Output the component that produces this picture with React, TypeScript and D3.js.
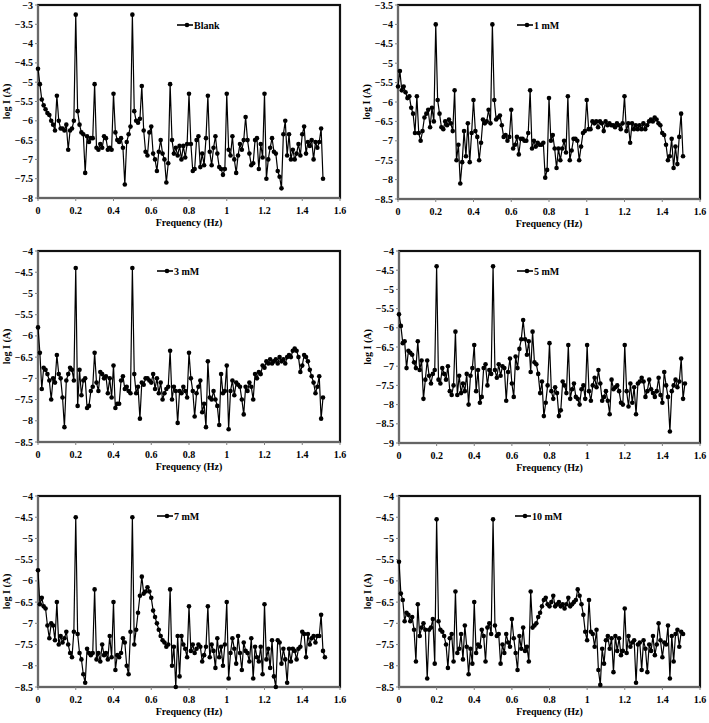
import * as d3 from "d3";

// log I (A) at 0.01 Hz steps
const blank = [
  -4.65, -5.05, -5.45, -5.6, -5.7, -5.8, -5.85, -6.0, -6.1, -6.25,
  -5.35, -6.0, -6.2, -6.2, -6.25, -6.1, -6.75, -6.25, -6.2, -6.0,
  -3.25, -5.75, -6.1, -6.3, -6.35, -7.35, -6.4, -6.55, -6.45, -6.45,
  -5.05, -6.7, -6.75, -6.6, -6.7, -6.4, -6.45, -6.75, -6.7, -6.75,
  -5.3, -6.3, -6.5, -6.55, -6.45, -6.7, -7.65, -6.55, -6.35, -6.15,
  -3.25, -5.75, -6.0, -6.05, -5.95, -5.1, -6.25, -6.8, -6.9, -6.3,
  -6.15, -6.85, -7.0, -7.3, -6.8, -6.5, -6.85, -7.0, -7.6, -7.1,
  -5.05, -6.5, -6.85, -6.7, -6.9, -6.65, -7.0, -6.65, -6.95, -6.6,
  -5.3, -6.6, -7.3, -7.25, -6.5, -6.4, -7.2, -6.85, -7.15, -6.45,
  -5.35, -6.8, -7.15, -6.7, -6.4, -6.85, -7.2, -7.25, -7.4, -7.25,
  -5.3, -6.75, -6.9, -6.4, -7.0, -7.35, -6.9, -6.6, -6.75, -6.5,
  -5.9, -6.5, -6.85, -7.15, -7.1, -6.5, -6.45, -7.25, -6.6, -6.95,
  -5.3, -7.5, -7.0, -6.7, -6.45, -6.8, -6.85, -7.3, -7.45, -7.75,
  -6.35, -6.0, -6.9, -6.35, -7.0, -6.75, -7.0, -6.85, -6.6, -6.9,
  -6.35, -6.15, -6.85, -6.55, -6.65, -6.5, -7.0, -6.55, -6.7, -6.55,
  -6.2, -7.5,
];

const mM1 = [
  -5.6, -5.2, -5.7, -5.6, -5.75, -5.9, -5.85, -6.15, -6.3, -6.8,
  -5.85, -6.8, -7.0, -6.75, -6.4, -6.3, -6.2, -6.65, -6.15, -6.5,
  -4.0, -5.95, -6.3, -6.65, -6.7, -6.5, -6.6, -6.45, -6.55, -6.75,
  -5.7, -7.5, -7.1, -8.1, -7.55, -6.75, -7.4, -6.55, -7.55, -6.8,
  -5.95, -6.75, -6.9, -7.5, -7.05, -6.45, -6.55, -6.5, -6.2, -6.55,
  -4.0, -5.95, -6.45, -6.4, -6.35, -6.6, -6.9, -6.85, -7.0, -6.9,
  -6.2, -7.2, -7.1, -6.9, -7.35, -6.95, -6.95, -7.0, -7.0, -6.8,
  -5.7, -7.2, -7.0, -7.15, -7.05, -7.1, -7.1, -7.05, -7.95, -7.75,
  -5.9, -7.0, -6.85, -7.2, -7.7, -7.2, -7.5, -7.2, -7.0, -7.3,
  -5.85, -7.5, -7.25, -6.95, -6.95, -7.0, -7.5, -7.15, -6.8, -6.75,
  -5.95, -6.7, -6.7, -6.5, -6.55, -6.5, -6.65, -6.5, -6.55, -6.75,
  -6.5, -6.6, -6.55, -6.6, -6.6, -6.65, -6.55, -6.6, -6.7, -6.55,
  -5.85, -6.75, -6.55, -7.05, -6.55, -6.7, -6.6, -6.7, -6.6, -6.7,
  -6.55, -6.7, -6.6, -6.5, -6.45, -6.5, -6.4, -6.45, -6.55, -6.6,
  -6.8, -6.85, -7.1, -7.5, -7.4, -6.95, -7.7, -7.15, -7.6, -6.9,
  -6.3, -7.4,
];

const mM3 = [
  -5.8, -6.4, -7.25, -6.75, -6.8, -6.9, -7.05, -7.5, -7.0, -7.1,
  -6.45, -6.9, -7.0, -7.45, -8.15, -7.05, -6.9, -6.75, -6.8, -7.05,
  -4.4, -7.65, -6.8, -7.4, -7.05, -7.0, -7.7, -7.65, -7.3, -7.2,
  -6.4, -7.1, -7.3, -6.85, -6.9, -7.0, -6.95, -7.35, -7.0, -7.45,
  -6.7, -7.7, -7.6, -7.6, -7.05, -6.95, -7.25, -7.2, -7.3, -7.35,
  -4.4, -6.9, -7.35, -7.2, -7.95, -7.1, -7.15, -7.0, -7.0, -7.05,
  -7.1, -6.9, -7.25, -7.0, -7.35, -7.1, -7.5, -7.35, -7.25, -7.2,
  -6.35, -7.5, -7.2, -7.3, -8.05, -7.3, -7.35, -7.2, -7.3, -7.45,
  -6.4, -7.0, -7.3, -7.9, -7.35, -7.2, -7.05, -7.8, -7.6, -8.15,
  -6.6, -7.45, -7.5, -7.3, -7.5, -7.65, -8.1, -6.9, -7.35, -7.3,
  -6.7, -8.2, -7.3, -7.05, -7.4, -7.1, -7.15, -7.2, -7.5, -7.85,
  -7.2, -7.3, -7.1, -7.2, -7.5, -6.9, -7.0, -6.85, -6.9, -6.7,
  -6.75, -6.6, -6.65, -6.55, -6.65, -6.6, -6.55, -6.65, -6.5, -6.6,
  -6.55, -6.65, -6.5, -6.45, -6.5, -6.35, -6.3, -6.35, -6.5, -6.85,
  -6.7, -6.45, -6.5, -6.6, -6.8, -6.95, -7.1, -7.35, -7.2, -6.95,
  -7.95, -7.45,
];

const mM5 = [
  -5.65, -5.95, -6.4, -6.35, -7.05, -6.6, -6.65, -6.7, -6.9, -7.05,
  -6.35, -7.1, -6.85, -7.85, -7.35, -6.85, -7.25, -7.45, -7.2, -7.1,
  -4.4, -7.35, -7.45, -7.05, -7.2, -7.35, -7.0, -7.65, -7.75, -7.5,
  -6.1, -7.75, -7.25, -7.7, -7.45, -7.65, -7.2, -8.0, -7.25, -7.05,
  -6.45, -7.65, -7.1, -7.95, -7.8, -7.05, -6.95, -7.5, -7.1, -7.2,
  -4.4, -7.1, -7.3, -6.95, -7.25, -7.0, -7.05, -7.9, -7.15, -6.8,
  -7.45, -7.8, -6.75, -7.05, -6.55, -6.3, -5.8, -6.3, -6.7, -6.35,
  -7.15, -6.1, -6.9, -6.95, -7.2, -7.7, -7.4, -8.3, -7.95, -7.5,
  -6.4, -7.65, -7.85, -7.55, -7.7, -8.3, -8.15, -7.4, -7.5, -7.7,
  -6.45, -7.85, -7.6, -7.45, -7.8, -7.85, -8.0, -7.6, -7.5, -7.85,
  -6.45, -7.65, -7.9, -7.5, -7.3, -7.55, -7.1, -7.45, -7.9, -7.8,
  -7.65, -7.9, -8.25, -7.35, -7.6, -7.55, -7.5, -7.65, -7.95, -8.0,
  -6.45, -7.65, -8.05, -7.45, -7.95, -7.55, -8.25, -7.45, -7.4, -7.3,
  -7.4, -7.8, -7.65, -7.35, -7.6, -7.7, -7.8, -7.65, -7.3, -7.75,
  -7.95, -7.15, -7.5, -7.8, -8.7, -7.65, -7.5, -7.35, -7.55, -7.4,
  -6.8, -7.85, -7.45,
];

const mM7 = [
  -5.75, -6.55, -6.4, -6.6, -6.65, -7.05, -7.35, -7.0, -7.05, -7.4,
  -6.5, -7.5, -7.3, -7.45, -7.35, -7.2, -7.5, -7.7, -7.8, -7.2,
  -4.5, -7.25, -7.7, -7.85, -8.2, -8.4, -7.6, -7.7, -7.75, -7.7,
  -6.2, -7.85, -7.7, -7.9, -7.5, -7.75, -7.7, -7.85, -7.3, -7.8,
  -6.5, -8.1, -7.75, -7.8, -7.7, -7.35, -7.45, -8.0, -8.2, -7.2,
  -4.5, -7.5, -7.15, -6.75, -6.35, -5.9, -6.3, -6.25, -6.15, -6.25,
  -6.4, -6.7, -6.85, -7.0, -7.15, -7.3, -7.4, -7.45, -7.55, -7.5,
  -6.2, -8.0, -7.55, -8.5, -7.3, -8.25, -7.3, -7.5, -7.6, -7.8,
  -6.6, -7.65, -7.5, -7.7, -7.6, -7.5, -7.55, -7.9, -7.75, -7.55,
  -6.6, -7.8, -7.5, -7.65, -8.05, -7.35, -7.8, -7.55, -8.0, -7.5,
  -6.5, -8.3, -7.7, -7.35, -7.6, -7.95, -7.3, -7.7, -8.1, -7.45,
  -7.65, -7.7, -7.9, -7.35, -8.3, -7.55, -7.8, -7.9, -7.55, -8.2,
  -6.55, -7.85, -7.6, -8.05, -7.4, -8.25, -8.5, -7.4, -7.45, -7.95,
  -7.6, -7.85, -8.4, -7.6, -7.9, -7.6, -7.65, -7.85, -7.6, -7.55,
  -7.2, -7.25, -7.8, -7.25, -7.5, -7.35, -7.3, -7.45, -7.3, -7.3,
  -6.8, -7.65, -7.8,
];

const mM10 = [
  -5.55, -6.3, -6.45, -6.95, -6.75, -6.8, -6.95, -6.85, -7.15, -7.9,
  -6.55, -7.3, -7.1, -7.0, -7.15, -8.3, -7.15, -7.1, -6.9, -7.95,
  -4.55, -6.95, -7.15, -7.2, -7.3, -7.5, -8.05, -7.35, -7.25, -7.9,
  -6.25, -7.7, -7.6, -7.25, -7.85, -7.05, -7.55, -8.2, -7.6, -7.95,
  -6.5, -7.7, -7.5, -7.55, -7.15, -7.3, -7.9, -7.1, -7.0, -7.25,
  -4.55, -7.05, -7.3, -7.25, -7.95, -7.5, -7.7, -7.25, -7.45, -7.55,
  -6.9, -7.35, -7.7, -8.1, -7.3, -7.6, -7.1, -7.65, -7.55, -7.9,
  -6.25, -7.1, -7.05, -7.0, -6.85, -6.75, -6.6, -6.45, -6.4, -6.55,
  -6.6, -6.5, -6.35, -6.6, -6.55, -6.5, -6.6, -6.55, -6.65, -6.55,
  -6.4, -6.6, -6.55, -6.5, -6.45, -6.2, -6.35, -6.55, -6.8, -7.2,
  -7.4, -6.45, -7.2, -7.25, -7.55, -7.15, -8.1, -8.45, -7.6, -7.95,
  -7.4, -7.3, -7.6, -7.35, -8.15, -7.3, -7.65, -7.35, -7.75, -7.65,
  -6.65, -7.7, -7.3, -7.55, -7.45, -7.4, -8.4, -7.5, -7.45, -8.1,
  -7.4, -7.6, -8.15, -7.5, -7.65, -7.3, -7.75, -7.5, -7.0, -7.4,
  -7.8, -7.45, -7.5, -7.05, -8.3, -7.3, -7.9, -7.25, -7.15, -7.55,
  -7.2, -7.25,
];

const seriesNames = ["Blank", "1 mM", "3 mM", "5 mM", "7 mM", "10 mM"];
const seriesValues = [blank, mM1, mM3, mM5, mM7, mM10];
const yDomains: [number, number][] = [
  [-8, -3],
  [-8.5, -3.5],
  [-8.5, -4],
  [-9, -4],
  [-8.5, -4],
  [-8.5, -4],
];
const xTicks = [0, 0.2, 0.4, 0.6, 0.8, 1, 1.2, 1.4, 1.6];
const FREQ_STEP = 0.01;

// plot-area boxes in page pixels
const BOXES = [
  { left: 38, right: 340, top: 5, bottom: 198 },
  { left: 398, right: 700, top: 5, bottom: 199 },
  { left: 38, right: 340, top: 251, bottom: 442 },
  { left: 399, right: 700, top: 251, bottom: 443 },
  { left: 38, right: 340, top: 496, bottom: 687 },
  { left: 399, right: 700, top: 496, bottom: 687 },
];
const LEGEND_X = [177, 517, 157, 517, 157, 515];

const FONT = "'Liberation Serif', 'Times New Roman', serif";

function Panel({ idx }: { idx: number }) {
  const box = BOXES[idx];
  const values = seriesValues[idx];
  const pts = values.map((v, i) => ({ f: i * FREQ_STEP, v }));

  const x = d3.scaleLinear().domain([0, 1.6]).range([box.left, box.right]);
  const y = d3.scaleLinear().domain(yDomains[idx]).range([box.bottom, box.top]);
  const yTicks = d3.range(yDomains[idx][0], yDomains[idx][1] + 0.001, 0.5);

  const line = d3
    .line<{ f: number; v: number }>()
    .x((d) => x(d.f))
    .y((d) => y(d.v));

  const midY = (box.top + box.bottom) / 2;
  const lx = LEGEND_X[idx];
  const ly = box.top + 20;

  return (
    <g>
      <rect
        x={box.left}
        y={box.top}
        width={box.right - box.left}
        height={box.bottom - box.top}
        fill="#fff"
        stroke="#111"
        strokeWidth={2.2}
      />
      {/* left + bottom axis lines (gray, over the frame) */}
      <line x1={box.left} x2={box.left} y1={box.top} y2={box.bottom} stroke="#808080" strokeWidth={1.6} />
      <line x1={box.left} x2={box.right} y1={box.bottom} y2={box.bottom} stroke="#808080" strokeWidth={1.6} />

      {yTicks.map((t) => (
        <g key={`y${t}`}>
          <line x1={box.left - 3} x2={box.left} y1={y(t)} y2={y(t)} stroke="#808080" />
          <text
            x={box.left - 5}
            y={y(t)}
            dy="0.35em"
            textAnchor="end"
            fontFamily={FONT}
            fontWeight="bold"
            fontSize={10}
          >
            {d3.format("")(+t.toFixed(1))}
          </text>
        </g>
      ))}
      {xTicks.map((t) => (
        <g key={`x${t}`}>
          <line x1={x(t)} x2={x(t)} y1={box.bottom} y2={box.bottom + 3} stroke="#808080" />
          <text
            x={x(t)}
            y={box.bottom + 16}
            textAnchor="middle"
            fontFamily={FONT}
            fontWeight="bold"
            fontSize={10}
          >
            {t}
          </text>
        </g>
      ))}

      <text
        x={(box.left + box.right) / 2}
        y={box.bottom + 28}
        textAnchor="middle"
        fontFamily={FONT}
        fontWeight="bold"
        fontSize={10}
      >
        Frequency (Hz)
      </text>
      <text
        transform={`translate(${box.left - 32},${midY}) rotate(-90)`}
        textAnchor="middle"
        dy="0.35em"
        fontFamily={FONT}
        fontWeight="bold"
        fontSize={10}
      >
        log I (A)
      </text>

      <path d={line(pts) ?? ""} fill="none" stroke="#000" strokeWidth={1.2} strokeLinejoin="round" />
      {pts.map((p, i) => (
        <circle key={i} cx={x(p.f)} cy={y(p.v)} r={2.3} fill="#000" />
      ))}

      <line x1={lx} x2={lx + 16} y1={ly} y2={ly} stroke="#000" strokeWidth={1.6} />
      <circle cx={lx + 10} cy={ly} r={2.3} fill="#000" />
      <text x={lx + 17} y={ly} dy="0.35em" fontFamily={FONT} fontWeight="bold" fontSize={10}>
        {seriesNames[idx]}
      </text>
    </g>
  );
}

export default function App() {
  return (
    <div style={{ position: "absolute", left: 0, top: 0 }}>
      <svg width={709} height={723} style={{ display: "block", background: "#fff" }}>
        {seriesNames.map((_, i) => (
          <Panel key={i} idx={i} />
        ))}
      </svg>
    </div>
  );
}
